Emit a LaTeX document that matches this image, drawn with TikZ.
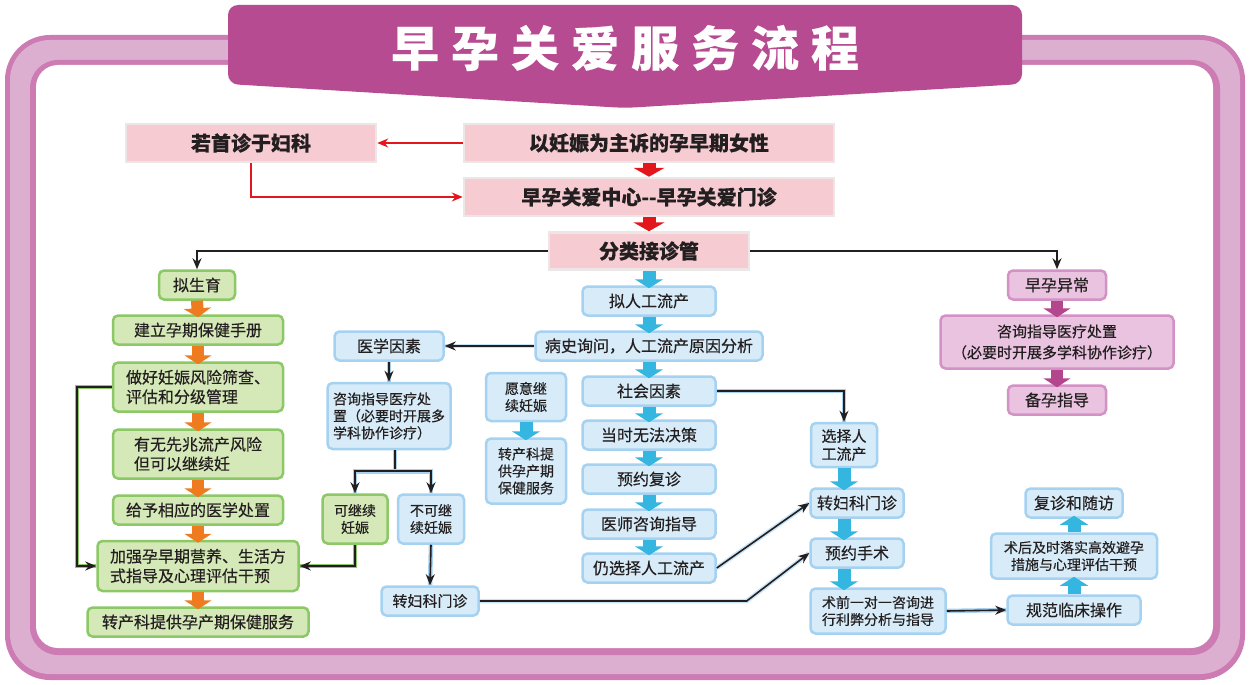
\documentclass[tikz,border=0pt]{standalone}
\usepackage{fontspec}
\setmainfont{Noto Sans CJK SC}[FakeBold=0.35]
\usetikzlibrary{arrows.meta}
\definecolor{frameDark}{HTML}{CD7BB3}
\definecolor{frameLight}{HTML}{DCAFD1}
\definecolor{banner}{HTML}{B74B92}
\definecolor{pinkFill}{HTML}{F6CCD2}
\definecolor{pinkEdge}{HTML}{ECE6E7}
\definecolor{greenFill}{HTML}{D5E8B7}
\definecolor{greenEdge}{HTML}{8DC867}
\definecolor{blueFill}{HTML}{D7ECF8}
\definecolor{blueEdge}{HTML}{A5D2F0}
\definecolor{mauveFill}{HTML}{E9C3DF}
\definecolor{mauveEdge}{HTML}{D491C5}
\definecolor{orangeArr}{HTML}{EE7B20}
\definecolor{blueArr}{HTML}{34B6E0}
\definecolor{magArr}{HTML}{B4468E}
\definecolor{redArr}{HTML}{E3161B}
\definecolor{lineC}{HTML}{231F20}
\definecolor{txt}{HTML}{231F20}
\begin{document}
\begin{tikzpicture}[x=1pt,y=-1pt,
  f16/.style={font=\fontsize{16}{19.5}\selectfont},
  f15/.style={font=\fontsize{15}{18}\selectfont},
  f14/.style={font=\fontsize{14}{17}\selectfont},
  f21/.style={font=\fontsize{15}{21}\selectfont},
  box/.style={rounded corners=5pt, line width=2.5pt, inner sep=0pt, align=center, text=txt, f16},
  gbox/.style={box, draw=greenEdge, fill=greenFill},
  bbox/.style={box, draw=blueEdge, fill=blueFill},
  mbox/.style={box, draw=mauveEdge, fill=mauveFill},
  pbox/.style={draw=pinkEdge, line width=2.5pt, fill=pinkFill, text=txt, inner sep=0pt,
               font=\fontsize{20}{24}\selectfont\bfseries},
  conn/.style={draw=lineC, line width=1.6pt, -{Stealth[length=11pt,width=9pt]}},
  redc/.style={draw=redArr, line width=1.3pt, -{Stealth[length=11pt,width=9pt]}},
  halo/.style={preaction={draw=#1, line width=4.5pt, arrows=-}},
  blkR/.style={draw=redArr, line width=13pt, -{Triangle[length=9pt,width=31pt]}},
  blkB/.style={draw=blueArr, line width=13pt, -{Triangle[length=9pt,width=28pt]}},
  blkO/.style={draw=orangeArr, line width=12pt, -{Triangle[length=9pt,width=27pt]}},
  blkM/.style={draw=magArr, line width=12pt, -{Triangle[length=9pt,width=27pt]}}
]
\useasboundingbox (0,0) rectangle (1251,685);
% frame
\fill[frameDark, rounded corners=45pt] (5,35) rectangle (1245,680);
\fill[frameLight, rounded corners=40pt] (10,40) rectangle (1240,674);
\fill[frameDark, rounded corners=28pt] (30,60) rectangle (1220,655);
\fill[white, rounded corners=22pt] (36,65) rectangle (1213,648);
% banner
\fill[banner, rounded corners=10pt] (228,5) -- (1022,5) -- (1022,84) -- (625,108) -- (228,84) -- cycle;
\node[text=white, font=\fontsize{48}{50}\selectfont\bfseries] (title) at (625,48)
  {早\hspace{12pt}孕\hspace{12pt}关\hspace{12pt}爱\hspace{12pt}服\hspace{12pt}务\hspace{12pt}流\hspace{12pt}程};

% pink boxes
\node[pbox, minimum width=250pt, minimum height=38pt] (fk) at (251,143) {若首诊于妇科};
\node[pbox, minimum width=370pt, minimum height=38pt] (yz) at (649,143) {以妊娠为主诉的孕早期女性};
\node[pbox, minimum width=370pt, minimum height=38pt] (zx) at (649,197) {早孕关爱中心-{}-早孕关爱门诊};
\node[pbox, minimum width=200pt, minimum height=37pt] (fl) at (649,251) {分类接诊管};

% green column
\node[gbox, minimum width=76pt, minimum height=29pt] (ns) at (197,285) {拟生育};
\node[gbox, minimum width=170pt, minimum height=29pt] (jl) at (198,330) {建立孕期保健手册};
\node[gbox, minimum width=170pt, minimum height=49pt, align=left] (zh) at (198,387) {做好妊娠风险筛查、\\评估和分级管理};
\node[gbox, minimum width=170pt, minimum height=49pt, align=left] (yw) at (198,454) {有无先兆流产风险\\但可以继续妊};
\node[gbox, minimum width=170pt, minimum height=29pt] (gy) at (198,510) {给予相应的医学处置};
\node[gbox, minimum width=201pt, minimum height=50pt, align=left] (jq) at (198,566) {加强孕早期营养、生活方\\式指导及心理评估干预};
\node[gbox, minimum width=221pt, minimum height=29pt] (zc) at (198,622) {转产科提供孕产期保健服务};

% medical factors
\node[bbox, minimum width=109pt, minimum height=29pt] (yx) at (389,346) {医学因素};
\node[bbox, f14, minimum width=123pt, minimum height=66pt, align=left] (zx2) at (389,416) {咨询指导医疗处\\置（必要时开展多\\学科协作诊疗）};
\node[gbox, f14, minimum width=65pt, minimum height=49pt] (kj) at (355,519) {可继续\\妊娠};
\node[bbox, f14, minimum width=66pt, minimum height=49pt] (bk) at (431,519) {不可继\\续妊娠};
\node[bbox, f15, minimum width=97pt, minimum height=29pt] (zf1) at (430,601) {转妇科门诊};

% middle column
\node[bbox, minimum width=133pt, minimum height=29pt] (nr) at (649,301) {拟人工流产};
\node[bbox, minimum width=227pt, minimum height=29pt] (bs) at (649,346) {病史询问，人工流产原因分析};
\node[bbox, minimum width=133pt, minimum height=29pt] (sh) at (649,391) {社会因素};
\node[bbox, minimum width=133pt, minimum height=29pt] (ds) at (649,435) {当时无法决策};
\node[bbox, minimum width=133pt, minimum height=29pt] (yy) at (649,479) {预约复诊};
\node[bbox, minimum width=133pt, minimum height=29pt] (ys) at (649,524) {医师咨询指导};
\node[bbox, minimum width=133pt, minimum height=29pt] (rx) at (649,568) {仍选择人工流产};
\node[bbox, f14, minimum width=80pt, minimum height=48pt] (yj) at (526,397) {愿意继\\续妊娠};
\node[bbox, f14, minimum width=80pt, minimum height=65pt, align=left] (zcb) at (526,471) {转产科提\\供孕产期\\保健服务};

% right-middle column
\node[bbox, f15, minimum width=66pt, minimum height=44pt, align=left] (xz) at (844,445) {选择人\\工流产};
\node[bbox, minimum width=93pt, minimum height=29pt] (zf2) at (857,503) {转妇科门诊};
\node[bbox, minimum width=93pt, minimum height=29pt] (yss) at (857,553) {预约手术};
\node[bbox, f14, minimum width=135pt, minimum height=45pt, align=left] (sq) at (878,611) {术前一对一咨询进\\行利弊分析与指导};

% right column
\node[mbox, minimum width=98pt, minimum height=29pt] (yc) at (1057,285) {早孕异常};
\node[mbox, f21, minimum width=233pt, minimum height=53pt] (zxm) at (1057,342) {咨询指导医疗处置\\（必要时开展多学科协作诊疗）};
\node[mbox, minimum width=98pt, minimum height=29pt] (by) at (1057,400) {备孕指导};
\node[bbox, minimum width=97pt, minimum height=29pt] (fz) at (1074,503) {复诊和随访};
\node[bbox, f14, minimum width=166pt, minimum height=45pt] (sh2) at (1074,556) {术后及时落实高效避孕\\措施与心理评估干预};
\node[bbox, minimum width=133pt, minimum height=29pt] (gf) at (1074,610) {规范临床操作};

% thin connectors
\draw[redc] (yz.west) -- (fk.east);
\draw[redc] (fk.south) |- (zx.west);
\draw[conn] (fl.west) -| (ns.north);
\draw[conn] (fl.east) -| (yc.north);
\draw[conn, halo=blueEdge!60] (bs.west) -- (yx.east);
\draw[conn, halo=blueEdge] (yx.south) -- (zx2.north);
\draw[conn, halo=blueEdge, -] ([xshift=6pt]zx2.south) -- ++(0,21) coordinate (sp);
\draw[conn, halo=blueEdge] (sp) -| (kj.north);
\draw[conn, halo=blueEdge] (sp) -| (bk.north);
\draw[conn, halo=greenEdge] (kj.south) |- (jq.east);
\draw[conn, halo=greenEdge] (zh.west) -- ++(-35,0) |- (jq.west);
\draw[conn, halo=blueEdge] (bk.south) -- (zf1.north);
\draw[conn, halo=blueEdge!60] (zf1.east) -- ++(267,0) -- (yss.west);
\draw[conn, halo=blueEdge!60] (rx.east) -- (zf2.west);
\draw[conn, halo=blueEdge] (sh.east) -| (xz.north);
\draw[conn, halo=blueEdge] (sq.east) -- (gf.west);

% block arrows
\draw[blkR] (yz.south) -- (zx.north);
\draw[blkR] (zx.south) -- (fl.north);
\draw[blkB] (fl.south) -- ([yshift=-3pt]nr.north);
\draw[blkB] (nr.south) -- ([yshift=-3pt]bs.north);
\draw[blkB] (bs.south) -- ([yshift=-3pt]sh.north);
\draw[blkB] (sh.south) -- ([yshift=-3pt]ds.north);
\draw[blkB] (ds.south) -- ([yshift=-3pt]yy.north);
\draw[blkB] (yy.south) -- ([yshift=-3pt]ys.north);
\draw[blkB] (ys.south) -- ([yshift=-3pt]rx.north);
\draw[blkB] (yj.south) -- ([yshift=-3pt]zcb.north);
\draw[blkB] (xz.south) -- ([yshift=-3pt]zf2.north -| xz.south);
\draw[blkB] (zf2.south -| xz.south) -- ([yshift=-3pt]yss.north -| xz.south);
\draw[blkB] (yss.south -| xz.south) -- ([yshift=-3pt]sq.north -| xz.south);
\draw[blkB] (gf.north) -- ([yshift=3pt]sh2.south);
\draw[blkB] (sh2.north) -- ([yshift=3pt]fz.south);
\draw[blkO] (ns.south) -- ([yshift=-3pt]jl.north);
\draw[blkO] (jl.south) -- ([yshift=-3pt]zh.north);
\draw[blkO] (zh.south) -- ([yshift=-3pt]yw.north);
\draw[blkO] (yw.south) -- ([yshift=-3pt]gy.north);
\draw[blkO] (gy.south) -- ([yshift=-3pt]jq.north);
\draw[blkO] (jq.south) -- ([yshift=-3pt]zc.north);
\draw[blkM] (yc.south) -- ([yshift=-3pt]zxm.north);
\draw[blkM] (zxm.south) -- ([yshift=-3pt]by.north);
\end{tikzpicture}
\end{document}
